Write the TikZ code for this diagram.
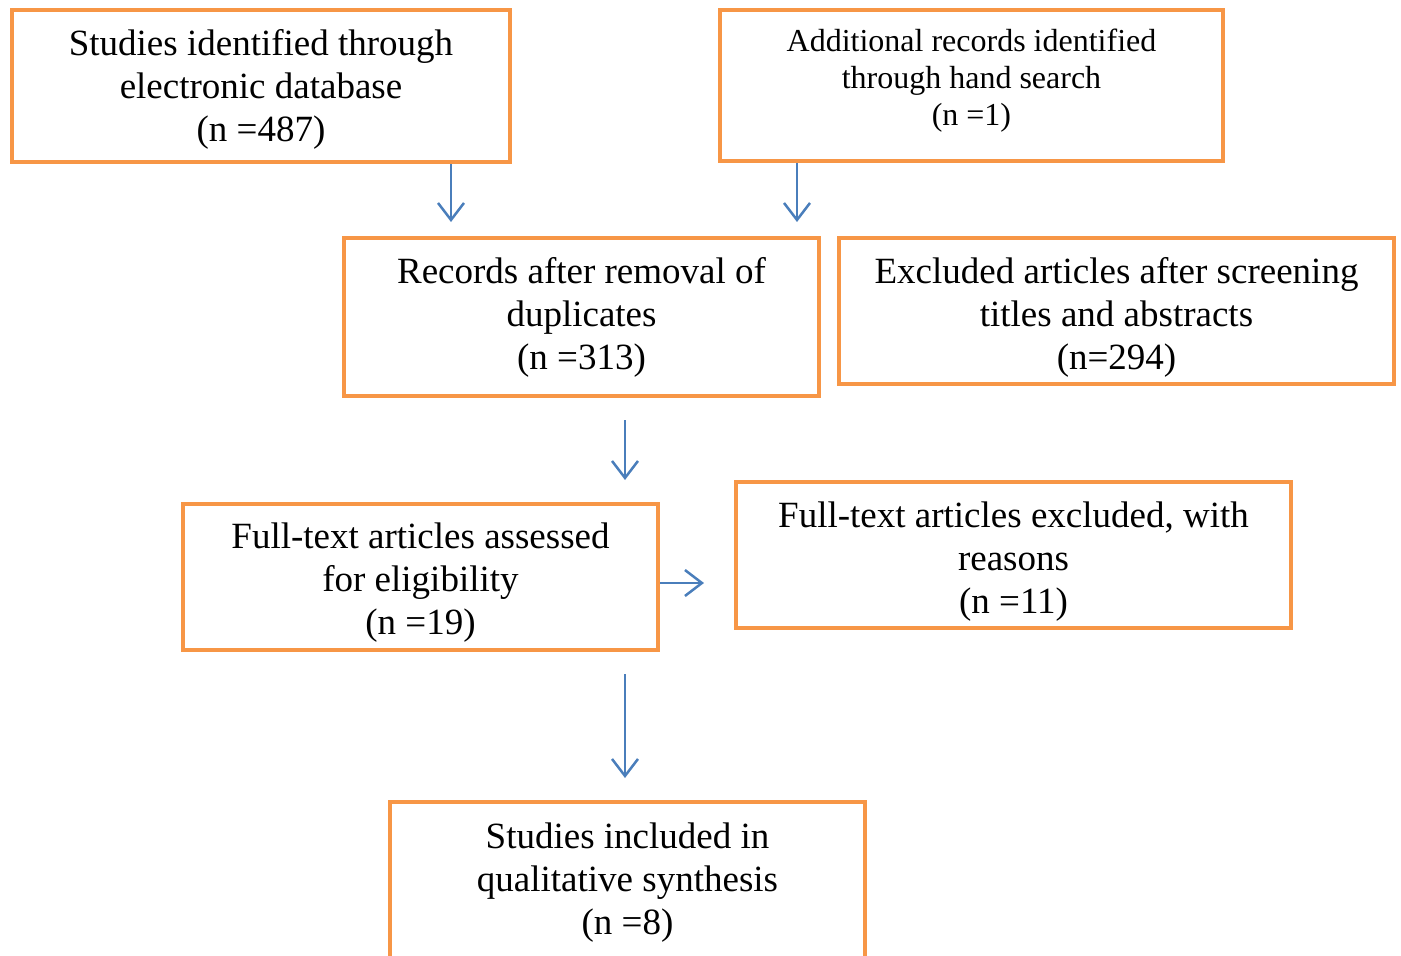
\documentclass[tikz,border=0pt]{standalone}
\usepackage{fontspec}
\setmainfont{Liberation Serif}
\usetikzlibrary{arrows.meta}

\definecolor{boxorange}{HTML}{F79646}
\definecolor{arrowblue}{HTML}{4A7EBB}

\begin{document}
\begin{tikzpicture}[x=1pt, y=-1pt,
  box/.style={draw=boxorange, line width=4pt, align=center, inner sep=0pt,
    font=\fontsize{37}{43}\selectfont},
  flow/.style={draw=arrowblue, line width=2.5pt,
    -{Straight Barb[length=17pt, width=26pt, line width=2.5pt]}}]
\useasboundingbox (0,0) rectangle (1401,956);

\node[box, minimum width=498pt, minimum height=152pt] (db) at (261,86)
  {\rule{0pt}{33.5pt}Studies identified through\\ electronic database\\ (n =487)};
\node[box, minimum width=503pt, minimum height=151pt,
  font=\fontsize{32}{37}\selectfont] (hand) at (971.5,85.5)
  {Additional records identified\\ through hand search\\ (n =1)\rule[-16pt]{0pt}{0pt}};
\node[box, minimum width=475pt, minimum height=158pt] (dup) at (581.5,317)
  {\rule{0pt}{27.5pt}Records after removal of\\ duplicates\\ (n =313)};
\node[box, minimum width=555pt, minimum height=146pt] (screened) at (1116.5,311)
  {\rule{0pt}{39.5pt}Excluded articles after screening\\ titles and abstracts\\ (n=294)};
\node[box, minimum width=475pt, minimum height=146pt] (full) at (420.5,577)
  {\rule{0pt}{37.5pt}Full-text articles assessed\\ for eligibility\\ (n =19)};
\node[box, minimum width=555pt, minimum height=146pt] (fullexcl) at (1013.5,555)
  {\rule{0pt}{39.5pt}Full-text articles excluded, with\\ reasons\\ (n =11)};
\node[box, minimum width=475pt, minimum height=158pt] (incl) at (627.5,881)
  {\rule{0pt}{29.5pt}Studies included in\\ qualitative synthesis\\ (n =8)};

% arrows
\draw[flow, shorten >=14pt] ([xshift=190pt]db.south) -- ([xshift=190pt]db.south |- dup.north);
\draw[flow, shorten >=14pt] ([xshift=-174.5pt]hand.south) -- ([xshift=-174.5pt]hand.south |- dup.north);
\draw[flow, shorten <=22pt, shorten >=22pt] ([xshift=43.5pt]dup.south) -- ([xshift=43.5pt]dup.south |- full.north);
\draw[flow, shorten >=30pt] ([yshift=-6pt]full.east) -- ([yshift=-6pt]full.east -| fullexcl.west);
\draw[flow, shorten <=22pt, shorten >=22pt] ([xshift=204.5pt]full.south) -- ([xshift=204.5pt]full.south |- incl.north);
\end{tikzpicture}
\end{document}
